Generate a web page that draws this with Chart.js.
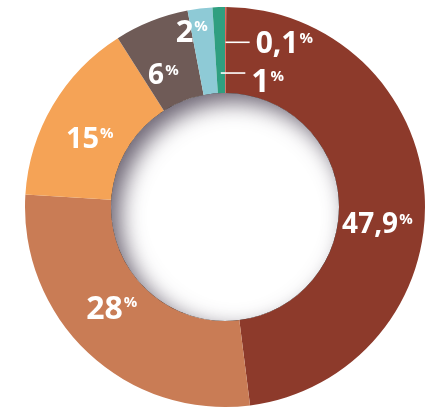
<!DOCTYPE html>
<html>
<head>
<meta charset="utf-8">
<script src="https://cdn.jsdelivr.net/npm/chart.js@4/dist/chart.umd.min.js"></script>
<style>
  html, body { margin: 0; padding: 0; background: #fff; }
  #wrap { width: 434px; height: 412px; }
</style>
</head>
<body>
<div id="wrap"><canvas id="chart"></canvas></div>
<script>
// Data (clockwise from 12 o'clock)
const labels = ['0,1', '47,9', '28', '15', '6', '2', '1'];
const values = [0.1, 47.9, 28, 15, 6, 2, 1];
const colors = ['#e2675c', '#8d3a2b', '#c97c55', '#f5a356', '#6f5b57', '#8ecad6', '#2f9f80'];

// Label placement: angle in degrees from top (clockwise), radius as share of outer radius
const labelPlace = [
  { ang: 18.8, rad: 0.87, size: 30, leader: true },
  { ang: 96.2, rad: 0.75, size: 28 },
  { ang: 229.2, rad: 0.77, size: 32 },
  { ang: 296.7, rad: 0.775, size: 29 },
  { ang: 334, rad: 0.74, size: 28 },
  { ang: 348.3, rad: 0.9, size: 31 },
  { ang: 17.4, rad: 0.66, size: 32, leader: true, lineUp: 8 }
];

// soft inset shadow inside the hole
const holeShadow = {
  id: 'holeShadow',
  afterDatasetsDraw(chart) {
    const arc = chart.getDatasetMeta(0).data[0];
    const ctx = chart.ctx;
    const cx = arc.x, cy = arc.y, ir = arc.innerRadius;
    ctx.save();
    ctx.beginPath();
    ctx.arc(cx, cy, ir, 0, Math.PI * 2);
    ctx.clip();
    ctx.beginPath();
    ctx.arc(cx, cy, ir + 80, 0, Math.PI * 2);
    ctx.arc(cx, cy, ir, 0, Math.PI * 2, true);
    ctx.shadowColor = 'rgba(60, 50, 70, 0.75)';
    ctx.shadowBlur = 22;
    ctx.shadowOffsetX = 9;
    ctx.shadowOffsetY = 9;
    ctx.fillStyle = '#000';
    ctx.fill();
    ctx.restore();
  }
};

// white labels with small superscript %
const pctLabels = {
  id: 'pctLabels',
  afterDraw(chart) {
    const meta = chart.getDatasetMeta(0);
    const ctx = chart.ctx;
    const first = meta.data[0];
    const cx = first.x, cy = first.y, R = first.outerRadius;
    ctx.save();
    ctx.fillStyle = '#fff';
    ctx.strokeStyle = '#fff';
    labels.forEach((txt, i) => {
      const p = labelPlace[i];
      const a = p.ang * Math.PI / 180;
      const x = cx + Math.sin(a) * R * p.rad;
      const y = cy - Math.cos(a) * R * p.rad;
      ctx.font = 'bold ' + p.size + 'px "Open Sans"';
      const w = ctx.measureText(txt).width;
      const cap = p.size * 0.714;
      const left = x - w / 2 - 4;
      const base = y + cap / 2;
      ctx.textAlign = 'left';
      ctx.textBaseline = 'alphabetic';
      ctx.fillText(txt, left, base);
      ctx.font = 'bold 15px "Open Sans"';
      ctx.fillText('%', left + w + 1, base - cap + 11);
      if (p.leader) {
        const arc = meta.data[i];
        const mid = (arc.startAngle + arc.endAngle) / 2 + Math.PI / 2;
        const ly = y - (p.lineUp || 0);
        const sx = cx + Math.tan(mid) * (cy - ly);
        ctx.lineWidth = 1.6;
        ctx.beginPath();
        ctx.moveTo(sx, ly);
        ctx.lineTo(left - 6, ly);
        ctx.stroke();
      }
    });
    ctx.restore();
  }
};

new Chart(document.getElementById('chart'), {
  type: 'doughnut',
  data: {
    labels: labels,
    datasets: [{
      data: values,
      backgroundColor: colors,
      borderWidth: 0,
      hoverOffset: 0
    }]
  },
  options: {
    responsive: true,
    maintainAspectRatio: false,
    animation: false,
    cutout: '57%',
    layout: { padding: { top: 7, bottom: 5, left: 16, right: 0 } },
    plugins: {
      legend: { display: false },
      tooltip: { enabled: false }
    }
  },
  plugins: [holeShadow, pctLabels]
});
</script>
</body>
</html>
